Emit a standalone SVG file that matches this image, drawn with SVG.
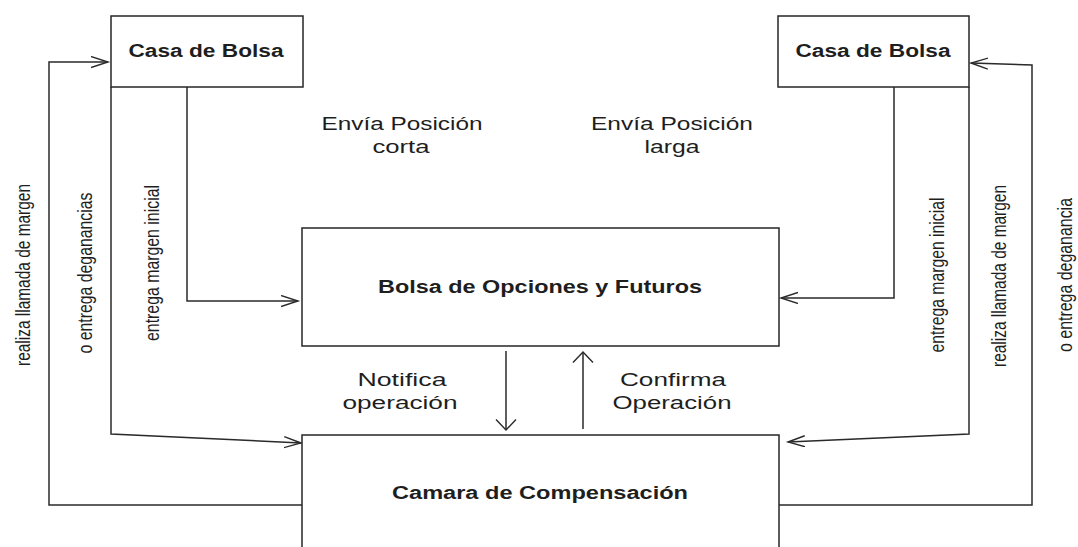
<svg xmlns="http://www.w3.org/2000/svg" width="1078" height="547" viewBox="0 0 1078 547">
<defs>
<style>
.box{fill:#fff;stroke:#262626;stroke-width:1.5}
.ln{fill:none;stroke:#2a2a2a;stroke-width:1.5}
.t{font-family:"Liberation Sans",Arial,sans-serif;fill:#1e1e1e;text-anchor:middle}
.b{font-weight:bold;font-size:17.5px}
.n{font-size:17.5px}
.v{font-size:21px}
</style>
<marker id="an" markerUnits="userSpaceOnUse" markerWidth="20" markerHeight="14" refX="17" refY="6" orient="auto" viewBox="0 0 20 14">
<path d="M0,0.5 L17,6 L0,11.5" fill="none" stroke="#2a2a2a" stroke-width="1.4"/>
</marker>
<marker id="aw" markerUnits="userSpaceOnUse" markerWidth="14" markerHeight="24" refX="11" refY="11" orient="auto" viewBox="0 0 14 24">
<path d="M0.5,1 L11,11 L0.5,21" fill="none" stroke="#2a2a2a" stroke-width="1.4"/>
</marker>
</defs>
<rect width="1078" height="547" fill="#fff"/>

<g id="connectors">
<polyline class="ln" points="302,505 49,505 49,62 108,62" marker-end="url(#an)"/>
<polyline class="ln" points="111,87 111,434 301,443" marker-end="url(#an)"/>
<polyline class="ln" points="187,87 187,301 298,301" marker-end="url(#an)"/>
<polyline class="ln" points="779,505 1032,505 1032,65 971,63" marker-end="url(#an)"/>
<polyline class="ln" points="969,87 969,434 788,442" marker-end="url(#an)"/>
<polyline class="ln" points="894,87 894,298 781,298" marker-end="url(#an)"/>
<line class="ln" x1="506" y1="351" x2="506" y2="430" marker-end="url(#aw)"/>
<line class="ln" x1="583" y1="429" x2="583" y2="352" marker-end="url(#aw)"/>
</g>

<g id="casa-left">
<rect class="box" x="111" y="16" width="192" height="71"/>
<text class="t b" x="206" y="57" textLength="155" lengthAdjust="spacingAndGlyphs">Casa de Bolsa</text>
</g>
<g id="casa-right">
<rect class="box" x="778" y="16" width="191" height="71"/>
<text class="t b" x="873" y="57" textLength="155" lengthAdjust="spacingAndGlyphs">Casa de Bolsa</text>
</g>
<g id="bolsa">
<rect class="box" x="302" y="228" width="477" height="118"/>
<text class="t b" x="540" y="292.5" textLength="324" lengthAdjust="spacingAndGlyphs">Bolsa de Opciones y Futuros</text>
</g>
<g id="camara">
<rect class="box" x="302" y="435" width="477" height="130"/>
<text class="t b" x="540" y="499" textLength="296" lengthAdjust="spacingAndGlyphs">Camara de Compensación</text>
</g>

<g id="labels">
<text class="t n" x="402" y="129.5" textLength="161" lengthAdjust="spacingAndGlyphs">Envía Posición</text>
<text class="t n" x="401" y="153" textLength="57" lengthAdjust="spacingAndGlyphs">corta</text>
<text class="t n" x="672" y="129.5" textLength="162" lengthAdjust="spacingAndGlyphs">Envía Posición</text>
<text class="t n" x="672" y="153" textLength="55" lengthAdjust="spacingAndGlyphs">larga</text>
<text class="t n" x="402" y="386" textLength="89" lengthAdjust="spacingAndGlyphs">Notifica</text>
<text class="t n" x="400" y="409" textLength="115" lengthAdjust="spacingAndGlyphs">operación</text>
<text class="t n" x="673" y="386" textLength="106" lengthAdjust="spacingAndGlyphs">Confirma</text>
<text class="t n" x="672" y="409" textLength="119" lengthAdjust="spacingAndGlyphs">Operación</text>

<text class="t v" transform="translate(29.5,275) rotate(-90)" textLength="182" lengthAdjust="spacingAndGlyphs">realiza llamada de margen</text>
<text class="t v" transform="translate(92,273) rotate(-90)" textLength="161" lengthAdjust="spacingAndGlyphs">o entrega deganancias</text>
<text class="t v" transform="translate(159,263) rotate(-90)" textLength="156" lengthAdjust="spacingAndGlyphs">entrega margen inicial</text>
<text class="t v" transform="translate(943.5,275) rotate(-90)" textLength="155" lengthAdjust="spacingAndGlyphs">entrega margen inicial</text>
<text class="t v" transform="translate(1006,276) rotate(-90)" textLength="182" lengthAdjust="spacingAndGlyphs">realiza llamada de margen</text>
<text class="t v" transform="translate(1072,275) rotate(-90)" textLength="154" lengthAdjust="spacingAndGlyphs">o entrega deganancia</text>
</g>
</svg>
